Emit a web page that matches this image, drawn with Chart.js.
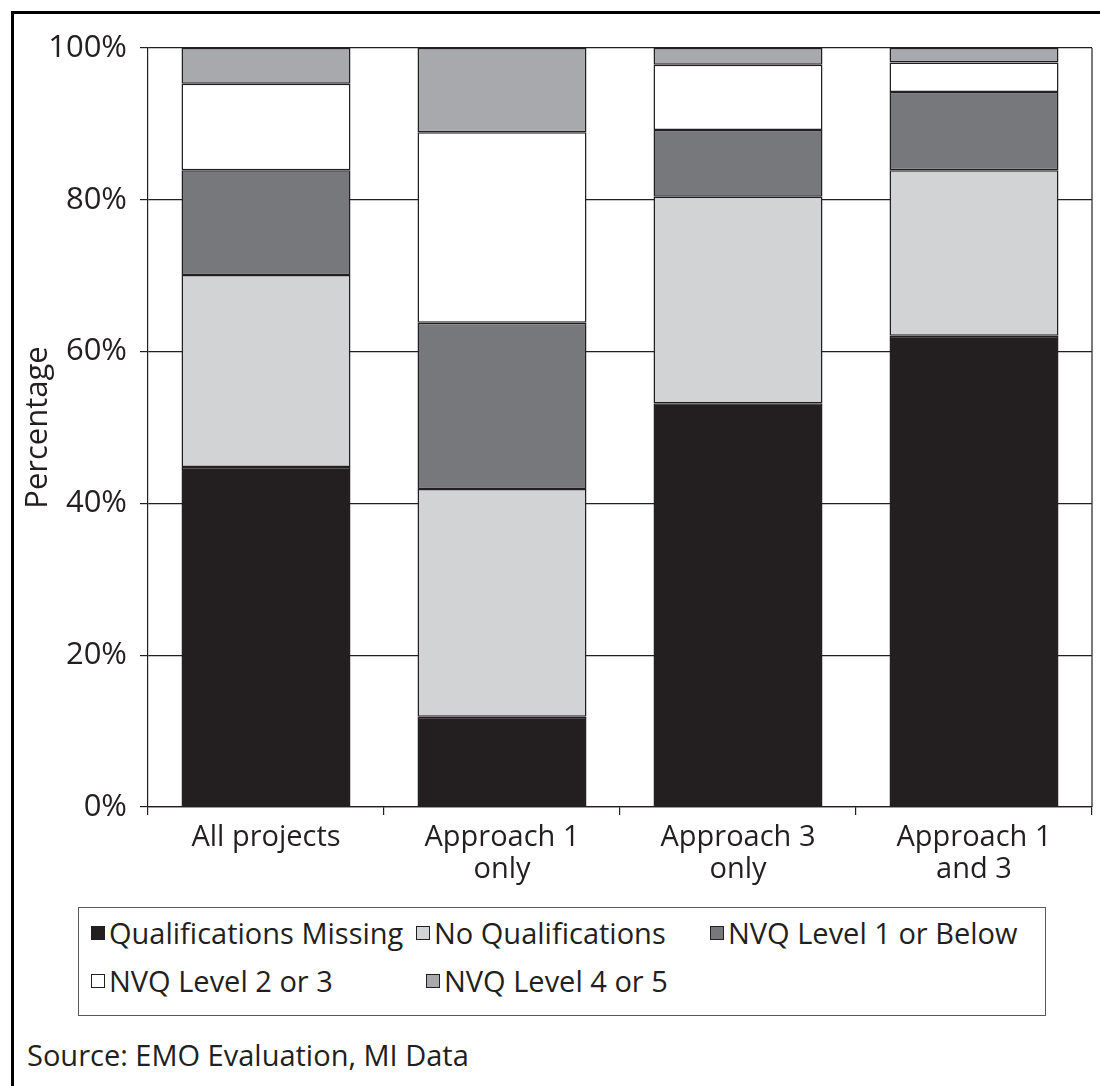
<!DOCTYPE html>
<html>
<head>
<meta charset="utf-8">
<script src="https://cdn.jsdelivr.net/npm/chart.js@4.4.1/dist/chart.umd.min.js"></script>
<style>
  html, body { margin: 0; padding: 0; background: #ffffff; }
  body { width: 1100px; height: 1086px; position: relative; overflow: hidden;
         font-family: "Open Sans", "Noto Sans", sans-serif; color: #231f20; }
  #frame { position: absolute; left: 11px; top: 11px; width: 1200px; height: 1200px;
           border-left: 3px solid #000; border-top: 3px solid #000; box-sizing: border-box; }
  #wrap { position: absolute; left: 0; top: 0; width: 1100px; height: 900px; }
  #legend { position: absolute; left: 78px; top: 907px; width: 968px; height: 109px;
            border: 1.5px solid #58595b; box-sizing: border-box; background: #fff; }
  .item { position: absolute; height: 34px; line-height: 34px; font-size: 29px;
          white-space: nowrap; display: flex; align-items: center; }
  .sw { width: 12px; height: 12px; border: 1.3px solid #231f20; margin-right: 4px; flex: none; }
  #source { position: absolute; left: 27px; top: 1038px; font-size: 29px; line-height: 34px; white-space: nowrap; }
</style>
</head>
<body>
<div id="frame"></div>
<div id="wrap"><canvas id="chart" width="1100" height="900"></canvas></div>
<div id="legend"></div>
<div id="source">Source: EMO Evaluation, MI Data</div>
<script>
// Categories (multi-line labels) and percentage shares per qualification group
const categories = [['All projects'], ['Approach 1', 'only'], ['Approach 3', 'only'], ['Approach 1', 'and 3']];
const seriesNames = ['Qualifications Missing', 'No Qualifications', 'NVQ Level 1 or Below', 'NVQ Level 2 or 3', 'NVQ Level 4 or 5'];
const qualificationsMissing = [44.8, 11.9, 53.2, 62.1];
const noQualifications     = [25.3, 30.0, 27.2, 21.8];
const nvqLevel1OrBelow     = [13.8, 21.9, 8.8, 10.3];
const nvqLevel2Or3         = [11.4, 25.1, 8.6, 3.9];
const nvqLevel4Or5         = [4.7, 11.1, 2.2, 1.9];
const yTickValues = [0, 20, 40, 60, 80, 100];

const seriesValues = [qualificationsMissing, noQualifications, nvqLevel1OrBelow, nvqLevel2Or3, nvqLevel4Or5];
const seriesColors = ['#231f20', '#d1d3d4', '#77787b', '#ffffff', '#a7a9ac'];

const ink = '#231f20';
const FONT = '"Open Sans", "Noto Sans", sans-serif';

// right-hand frame line of the plot area
const plotFrame = {
  id: 'plotFrame',
  beforeDatasetsDraw(chart) {
    const { ctx, chartArea } = chart;
    ctx.save();
    ctx.strokeStyle = ink;
    ctx.lineWidth = 1.2;
    ctx.beginPath();
    ctx.moveTo(chartArea.right, chartArea.top);
    ctx.lineTo(chartArea.right, chartArea.bottom);
    ctx.stroke();
    ctx.restore();
  }
};

const chart = new Chart(document.getElementById('chart'), {
  type: 'bar',
  data: {
    labels: categories,
    datasets: seriesNames.map((name, i) => ({
      label: name,
      data: seriesValues[i],
      backgroundColor: seriesColors[i],
      borderColor: ink,
      borderWidth: 1.5,
      borderSkipped: false,
      barPercentage: 0.716,
      categoryPercentage: 1.0
    }))
  },
  options: {
    responsive: false,
    animation: false,
    events: [],
    layout: { padding: { top: 48, left: 12, right: 8, bottom: 13 } },
    plugins: { legend: { display: false }, tooltip: { enabled: false } },
    scales: {
      x: {
        stacked: true,
        offset: true,
        grid: { display: true, drawOnChartArea: false, drawTicks: true, tickLength: 8, color: ink, lineWidth: 1.2, offset: true },
        border: { display: true, color: ink, width: 1.2 },
        ticks: { color: ink, padding: 6, maxRotation: 0, autoSkip: false,
                 font: { family: FONT, size: 29, lineHeight: 1.13 } },
        afterFit(scale) { scale.height = 80; }
      },
      y: {
        stacked: true,
        min: 0,
        max: 100,
        afterBuildTicks(scale) { scale.ticks = yTickValues.map(v => ({ value: v })); },
        grid: { color: ink, lineWidth: 1.2, drawTicks: true, tickLength: 8 },
        border: { display: true, color: ink, width: 1.2 },
        ticks: { color: ink, padding: 13, font: { family: FONT, size: 31 },
                 callback: v => v + '%' },
        title: { display: true, text: 'Percentage', color: ink,
                 font: { family: FONT, size: 31, lineHeight: 1.2 }, padding: { top: 8, bottom: 0 } },
        afterFit(scale) { scale.width = 136; }
      }
    }
  },
  plugins: [plotFrame]
});

// legend built from the same series names and colours
const legendSlots = [[12, 8], [337, 8], [631, 8], [12, 56], [347, 56]];
const legendEl = document.getElementById('legend');
seriesNames.forEach((name, i) => {
  const item = document.createElement('div');
  item.className = 'item';
  item.style.left = legendSlots[i][0] + 'px';
  item.style.top = legendSlots[i][1] + 'px';
  const sw = document.createElement('span');
  sw.className = 'sw';
  sw.style.background = seriesColors[i];
  const tx = document.createElement('span');
  tx.textContent = name;
  item.appendChild(sw);
  item.appendChild(tx);
  legendEl.appendChild(item);
});
</script>
</body>
</html>
